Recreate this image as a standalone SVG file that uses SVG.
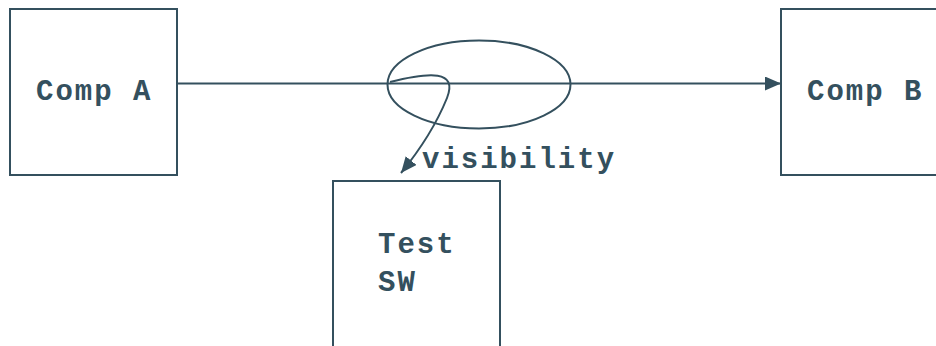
<svg xmlns="http://www.w3.org/2000/svg" width="936" height="346" viewBox="0 0 936 346">
<style>
.box{fill:#fff;stroke:#34505e;stroke-width:2}
.lbl{font-family:"Liberation Mono","Courier New",monospace;font-weight:bold;font-size:29px;letter-spacing:2px;fill:#34505e}
.edge{fill:none;stroke:#34505e;stroke-width:2}
</style>
<defs>
<marker id="ah" markerUnits="userSpaceOnUse" markerWidth="18" markerHeight="14" refX="16" refY="7" orient="auto">
<path d="M0,0 L16,7 L0,14 Z" fill="#34505e"/>
</marker>
</defs>
<rect width="936" height="346" fill="#fff"/>
<g id="compA">
<rect class="box" x="10" y="9" width="167" height="166"/>
<text class="lbl" x="36" y="100">Comp A</text>
</g>
<g id="compB">
<rect class="box" x="781" y="9" width="170" height="166"/>
<text class="lbl" x="807" y="100">Comp B</text>
</g>
<g id="testSW">
<rect class="box" x="333" y="181" width="167" height="180"/>
<text class="lbl" x="378" y="253">Test</text>
<text class="lbl" x="378" y="291">SW</text>
</g>
<g id="visibilityScope">
<ellipse class="edge" cx="479" cy="84.5" rx="91.5" ry="44"/>
</g>
<g id="connectors">
<line class="edge" x1="177" y1="83.5" x2="781" y2="83.5" marker-end="url(#ah)"/>
<path class="edge" d="M390,82 C430,72 458,70 447,98 Q432,135 401,173" marker-end="url(#ah)"/>
<text class="lbl" x="422" y="168">visibility</text>
</g>
</svg>
